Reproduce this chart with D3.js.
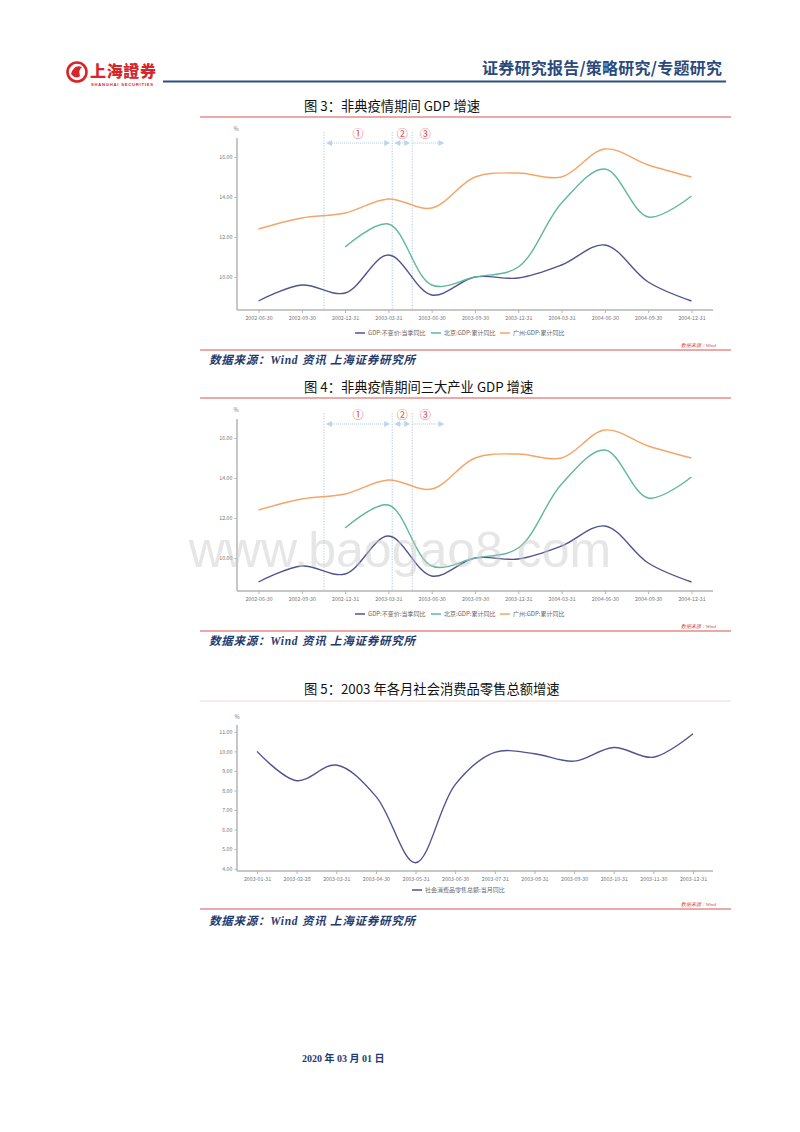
<!DOCTYPE html>
<html><head><meta charset="utf-8">
<script src="https://cdn.jsdelivr.net/npm/d3@7"></script>
<style>body{margin:0;background:#fff}svg{display:block}</style>
</head><body><svg id="c" width="800" height="1132"></svg>
<script>
// ---------- data ----------
const quarters = ["2002-06-30","2002-09-30","2002-12-31","2003-03-31","2003-06-30","2003-09-30","2003-12-31","2004-03-31","2004-06-30","2004-09-30","2004-12-31"];
const gdpNational = [8.8, 9.6, 9.2, 11.1, 9.1, 10.0, 9.95, 10.6, 11.6, 9.75, 8.8];
const gdpBeijing = [null, null, 11.5, 12.65, 9.6, 10.0, 10.5, 13.7, 15.4, 13.0, 14.05];
const gdpGuangzhou = [12.4, 12.95, 13.2, 13.9, 13.45, 15.0, 15.2, 15.0, 16.4, 15.6, 15.0];
const quarterYTicks = [10, 12, 14, 16];
const quarterSeriesNames = ["GDP:不变价:当季同比", "北京:GDP:累计同比", "广州:GDP:累计同比"];
const sarsMarkerDates = ["2002-11-16", "2003-04-08", "2003-05-20", "2003-07-27"];
const phaseLabels = ["①", "②", "③"];

const months = ["2003-01-31","2003-02-28","2003-03-31","2003-04-30","2003-05-31","2003-06-30","2003-07-31","2003-08-31","2003-09-30","2003-10-31","2003-11-30","2003-12-31"];
const retailGrowth = [10.0, 8.5, 9.3, 7.7, 4.3, 8.3, 9.95, 9.88, 9.5, 10.2, 9.7, 10.9];
const monthYTicks = [4, 5, 6, 7, 8, 9, 10, 11];
const retailSeriesName = "社会消费品零售总额:当月同比";

const chartTitles = ["图 3：非典疫情期间 GDP 增速", "图 4：非典疫情期间三大产业 GDP 增速", "图 5：2003 年各月社会消费品零售总额增速"];

// ---------- drawing ----------
const svg = d3.select("#c");
const CJK = "'Noto Sans CJK SC','Noto Sans',sans-serif";
const seriesColors = ["#50538f", "#5fb89d", "#f5a567"];
const axisColor = "#b5b5b5", labelColor = "#777";
const redLine = "#d9534f", navy = "#1f3b6e";

// header
const hdr = svg.append("g");
hdr.append("circle").attr("cx", 77).attr("cy", 72).attr("r", 9.5).attr("fill", "none").attr("stroke", "#d7262b").attr("stroke-width", 2.6);
hdr.append("path").attr("d", "M71,74 Q74,64 82,67 Q78,70 80,76 Q76,80 71,74Z").attr("fill", "#d7262b");
hdr.append("text").attr("x", 90).attr("y", 77).attr("font-family", CJK).attr("font-weight", 900).attr("font-size", 16).attr("fill", "#d7262b").attr("textLength", 66).text("上海證券");
hdr.append("text").attr("x", 91).attr("y", 86).attr("font-family", "'Liberation Sans',sans-serif").attr("font-weight", 700).attr("font-size", 4.2).attr("fill", "#d7262b").attr("textLength", 62).text("SHANGHAI SECURITIES");
hdr.append("text").attr("x", 722).attr("y", 74).attr("text-anchor", "end").attr("font-family", CJK).attr("font-weight", 700).attr("font-size", 16).attr("fill", "#2b4a7c").attr("textLength", 240).text("证券研究报告/策略研究/专题研究");
hdr.append("line").attr("x1", 163).attr("x2", 726).attr("y1", 81.5).attr("y2", 81.5).attr("stroke", "#2d4f80").attr("stroke-width", 2);

function frame(titleY, topLineY, botLineY, srcY, title, topColor) {
  svg.append("text").attr("x", 304).attr("y", titleY + 5).attr("font-family", CJK).attr("font-size", 13.3).attr("fill", "#111").text(title);
  svg.append("line").attr("x1", 200).attr("x2", 731).attr("y1", topLineY).attr("y2", topLineY).attr("stroke", topColor).attr("stroke-width", 1);
  svg.append("line").attr("x1", 200).attr("x2", 731).attr("y1", botLineY).attr("y2", botLineY).attr("stroke", redLine).attr("stroke-width", 1);
  svg.append("text").attr("x", 716).attr("y", botLineY - 3).attr("text-anchor", "end").attr("font-family", "'Liberation Serif',serif").attr("font-style", "italic").attr("font-size", 5).attr("fill", "#d04040").text("数据来源：Wind");
  svg.append("text").attr("x", 209).attr("y", srcY + 4).attr("font-family", "'Liberation Serif'," + CJK).attr("font-style", "italic").attr("font-weight", 700).attr("font-size", 11.5).attr("fill", navy).attr("textLength", 206).text("数据来源：Wind 资讯  上海证券研究所");
}

function legend(g, items, y, xs) {
  items.forEach((it, i) => {
    g.append("line").attr("x1", xs[i]).attr("x2", xs[i] + 10).attr("y1", y).attr("y2", y).attr("stroke", it.color).attr("stroke-width", 1.5);
    g.append("text").attr("x", xs[i] + 13).attr("y", y + 2).attr("font-family", CJK).attr("font-size", 6).attr("fill", "#666").text(it.name);
  });
}

function styleAxis(a) {
  a.selectAll("path,line").attr("stroke", axisColor);
  a.selectAll("text").attr("fill", labelColor).attr("font-family", CJK).attr("font-size", 5.3);
}

function quarterChart(dy, title) {
  frame(106 + dy, 117 + dy, 350 + dy, 360 + dy, title, redLine);
  const g = svg.append("g");
  const x = d3.scalePoint().domain(quarters).range([258.5, 691.5]);
  const y = d3.scaleLinear().domain([8.35, 16.95]).range([310 + dy, 138 + dy]);
  const ya = g.append("g").attr("transform", "translate(237,0)").call(d3.axisLeft(y).tickValues(quarterYTicks).tickFormat(d3.format(".2f")).tickSize(2.5).tickPadding(2));
  ya.select(".domain").attr("d", `M0,${y.range()[1]}V${y.range()[0]}`).attr("stroke-width", 1.5);
  styleAxis(ya);
  const xa = g.append("g").attr("transform", `translate(0,${310 + dy})`).call(d3.axisBottom(x).tickSize(3).tickPadding(3));
  xa.select(".domain").attr("d", "M237,0H713").attr("stroke-width", 1.5);
  styleAxis(xa);
  g.append("text").attr("x", 236).attr("y", 131 + dy).attr("text-anchor", "middle").attr("font-family", CJK).attr("font-size", 5.5).attr("fill", labelColor).text("%");
  const tx = d3.scaleTime().domain(quarters.map(d => new Date(d))).range(quarters.map(d => x(d)));
  const mx = sarsMarkerDates.map(d => tx(new Date(d)));
  const mc = "#a9c8e9";
  mx.slice(0, 3).forEach(v => g.append("line").attr("x1", v).attr("x2", v).attr("y1", 132 + dy).attr("y2", 310 + dy).attr("stroke", mc).attr("stroke-width", 1).attr("stroke-dasharray", "1.2,1.5"));
  const ay = 143 + dy;
  const tri = (tip, dir) => g.append("path").attr("d", `M${tip},${ay}L${tip - dir * 6},${ay - 3}L${tip - dir * 6},${ay + 3}Z`).attr("fill", "#bcd4ef");
  const dline = (a, b) => g.append("line").attr("x1", a).attr("x2", b).attr("y1", ay).attr("y2", ay).attr("stroke", mc).attr("stroke-width", 1).attr("stroke-dasharray", "1,1");
  tri(mx[0] + 2, -1); tri(mx[1] - 2, 1); dline(mx[0] + 8, mx[1] - 8);
  tri(mx[1] + 2, -1); tri(mx[2] - 2, 1); dline(mx[1] + 8, mx[2] - 8);
  tri(mx[3], 1); dline(mx[2] + 1, mx[3] - 6);
  const lblX = [(mx[0] + mx[1]) / 2, (mx[1] + mx[2]) / 2, (mx[2] + mx[3]) / 2 - 3];
  phaseLabels.forEach((t, i) => g.append("text").attr("x", lblX[i]).attr("y", 138 + dy).attr("text-anchor", "middle").attr("font-family", CJK).attr("font-size", 11).attr("fill", "#e04848").text(t));
  const series = [gdpNational, gdpBeijing, gdpGuangzhou];
  const line = d3.line().defined(d => d[1] != null).x(d => x(d[0])).y(d => y(d[1])).curve(d3.curveCatmullRom.alpha(0.5));
  series.forEach((s, i) => {
    g.append("path").datum(quarters.map((q, j) => [q, s[j]])).attr("d", line).attr("fill", "none").attr("stroke", seriesColors[i]).attr("stroke-width", 1.4);
  });
  legend(g, quarterSeriesNames.map((n, i) => ({name: n, color: seriesColors[i]})), 333 + dy, [355, 431, 500]);
}

quarterChart(0, chartTitles[0]);
quarterChart(281, chartTitles[1]);

// watermark
svg.append("text").attr("x", 400).attr("y", 567).attr("text-anchor", "middle").attr("font-family", "'Liberation Sans',Arial,sans-serif").attr("font-size", 50).attr("fill", "#c8c8c8").attr("fill-opacity", 0.45).text("www.baogao8.com");

// chart 5
(function () {
  frame(689, 701, 909, 921, chartTitles[2], "#f6d6d6");
  const g = svg.append("g");
  const x = d3.scalePoint().domain(months).range([257, 693]);
  const y = d3.scaleLinear().domain([3.88, 11.35]).range([871, 725]);
  const ya = g.append("g").attr("transform", "translate(237,0)").call(d3.axisLeft(y).tickValues(monthYTicks).tickFormat(d3.format(".2f")).tickSize(2.5).tickPadding(2));
  ya.select(".domain").attr("d", `M0,725V871`).attr("stroke-width", 1.5);
  styleAxis(ya);
  const xa = g.append("g").attr("transform", "translate(0,871)").call(d3.axisBottom(x).tickSize(3).tickPadding(3));
  xa.select(".domain").attr("d", "M237,0H713").attr("stroke-width", 1.5);
  styleAxis(xa);
  g.append("text").attr("x", 237).attr("y", 719).attr("text-anchor", "middle").attr("font-family", CJK).attr("font-size", 5.5).attr("fill", labelColor).text("%");
  const line = d3.line().x((d, i) => x(months[i])).y(d => y(d)).curve(d3.curveCatmullRom.alpha(0.5));
  g.append("path").datum(retailGrowth).attr("d", line).attr("fill", "none").attr("stroke", seriesColors[0]).attr("stroke-width", 1.4);
  legend(g, [{name: retailSeriesName, color: seriesColors[0]}], 890, [412]);
})();

// footer
svg.append("text").attr("x", 302).attr("y", 1062).attr("font-family", "'Liberation Serif'," + CJK).attr("font-weight", 700).attr("font-size", 10).attr("fill", navy).text("2020 年 03 月 01 日");
</script></body></html>
